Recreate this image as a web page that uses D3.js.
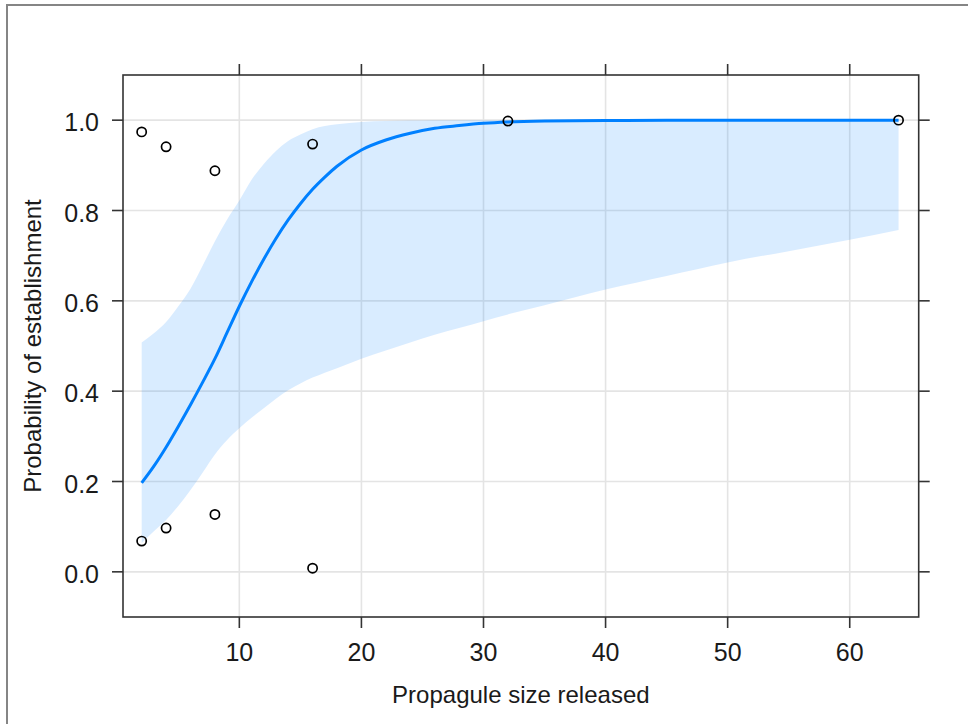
<!DOCTYPE html>
<html>
<head>
<meta charset="utf-8">
<script src="https://cdn.jsdelivr.net/npm/d3@7"></script>
<style>
  html, body { margin: 0; padding: 0; background: #fff; }
  svg { display: block; }
  text { font-family: "Liberation Sans", Arial, sans-serif; fill: #1a1a1a; }
</style>
</head>
<body>
<script>
// ---- data ----
const sizes = [2,3,4,5,6,7,8,9,10,11,12,13,14,15,16,17,18,20,22,24,26,28,30,32,35,40,45,50,55,60,64];
const fitted = [0.197,0.234,0.276,0.322,0.370,0.420,0.472,0.530,0.588,0.642,0.692,0.738,0.779,0.815,0.847,0.874,0.898,0.934,0.956,0.971,0.982,0.988,0.993,0.996,0.998,0.999,1.000,1.000,1.000,1.000,1.000];
const lowerCI = [0.064,0.090,0.115,0.146,0.181,0.220,0.260,0.292,0.318,0.341,0.362,0.383,0.402,0.417,0.430,0.441,0.451,0.472,0.490,0.508,0.525,0.540,0.555,0.570,0.590,0.625,0.655,0.685,0.710,0.735,0.757];
const upperCI = [0.508,0.528,0.553,0.588,0.627,0.678,0.732,0.780,0.822,0.868,0.903,0.932,0.954,0.968,0.980,0.987,0.991,0.996,0.998,0.999,1.000,1.000,1.000,1.000,1.000,1.000,1.000,1.000,1.000,1.000,1.000];

const pointX = [2,4,8,16,2,4,8,16,32,64];
const pointY = [0.974,0.941,0.888,0.947,0.068,0.097,0.127,0.008,0.998,1.000];

const xTicks = [10,20,30,40,50,60];
const yTicks = [0.0,0.2,0.4,0.6,0.8,1.0];
const xTitle = "Propagule size released";
const yTitle = "Probability of establishment";

// ---- layout ----
const W = 968, H = 724;
const plot = {left: 123, right: 918.7, top: 75, bottom: 617};

const svg = d3.select("body").append("svg").attr("width", W).attr("height", H);

// outer frame (left and top edges visible)
svg.append("path")
  .attr("d", d3.line()([[7, H], [7, 5], [W, 5]]))
  .attr("fill", "none").attr("stroke", "#858585").attr("stroke-width", 2);

const x = d3.scaleLinear().domain([0.47, 65.65]).range([plot.left, plot.right]);
const y = d3.scaleLinear().domain([-0.1, 1.1]).range([plot.bottom, plot.top]);

// grid
const g = svg.append("g");
g.selectAll("line.gx").data(xTicks).join("line")
  .attr("x1", d => x(d)).attr("x2", d => x(d))
  .attr("y1", plot.top).attr("y2", plot.bottom)
  .attr("stroke", "#e4e4e4").attr("stroke-width", 1.6);
g.selectAll("line.gy").data(yTicks).join("line")
  .attr("y1", d => y(d)).attr("y2", d => y(d))
  .attr("x1", plot.left).attr("x2", plot.right)
  .attr("stroke", "#e4e4e4").attr("stroke-width", 1.6);

const rows = sizes.map((s, i) => ({s, f: fitted[i], lo: lowerCI[i], hi: upperCI[i]}));

// confidence band
svg.append("path").datum(rows)
  .attr("d", d3.area().x(d => x(d.s)).y0(d => y(d.lo)).y1(d => y(d.hi)).curve(d3.curveMonotoneX))
  .attr("fill", "#0080ff").attr("fill-opacity", 0.15);

// fitted line
svg.append("path").datum(rows)
  .attr("d", d3.line().x(d => x(d.s)).y(d => y(d.f)).curve(d3.curveMonotoneX))
  .attr("fill", "none").attr("stroke", "#0080ff").attr("stroke-width", 3);

// points
svg.selectAll("circle.pt").data(pointX.map((v, i) => [v, pointY[i]])).join("circle")
  .attr("cx", d => x(d[0])).attr("cy", d => y(d[1])).attr("r", 4.6)
  .attr("fill", "none").attr("stroke", "#000").attr("stroke-width", 1.7);

// box
svg.append("rect")
  .attr("x", plot.left).attr("y", plot.top)
  .attr("width", plot.right - plot.left).attr("height", plot.bottom - plot.top)
  .attr("fill", "none").attr("stroke", "#333").attr("stroke-width", 1.6);

// axes (ticks on all sides, labels on bottom and left)
const tickLen = 11;
const fsTick = 25, fsTitle = 24;
const ax = svg.append("g").attr("stroke", "#333").attr("stroke-width", 1.6);
xTicks.forEach(t => {
  ax.append("line").attr("x1", x(t)).attr("x2", x(t)).attr("y1", plot.bottom).attr("y2", plot.bottom + tickLen);
  ax.append("line").attr("x1", x(t)).attr("x2", x(t)).attr("y1", plot.top).attr("y2", plot.top - tickLen);
});
yTicks.forEach(t => {
  ax.append("line").attr("y1", y(t)).attr("y2", y(t)).attr("x1", plot.left).attr("x2", plot.left - tickLen);
  ax.append("line").attr("y1", y(t)).attr("y2", y(t)).attr("x1", plot.right).attr("x2", plot.right + tickLen);
});

svg.selectAll("text.xt").data(xTicks).join("text")
  .attr("class", "xt")
  .attr("x", d => x(d)).attr("y", 661)
  .attr("text-anchor", "middle").attr("font-size", fsTick)
  .text(d => d3.format("d")(d));

svg.selectAll("text.yt").data(yTicks).join("text")
  .attr("class", "yt")
  .attr("x", 99).attr("y", d => y(d) + 11)
  .attr("text-anchor", "end").attr("font-size", fsTick)
  .text(d => d3.format(".1f")(d));

svg.append("text")
  .attr("x", (plot.left + plot.right) / 2).attr("y", 703)
  .attr("text-anchor", "middle").attr("font-size", fsTitle)
  .text(xTitle);

svg.append("text")
  .attr("transform", `translate(41,${(plot.top + plot.bottom) / 2}) rotate(-90)`)
  .attr("text-anchor", "middle").attr("font-size", fsTitle)
  .text(yTitle);
</script>
</body>
</html>
